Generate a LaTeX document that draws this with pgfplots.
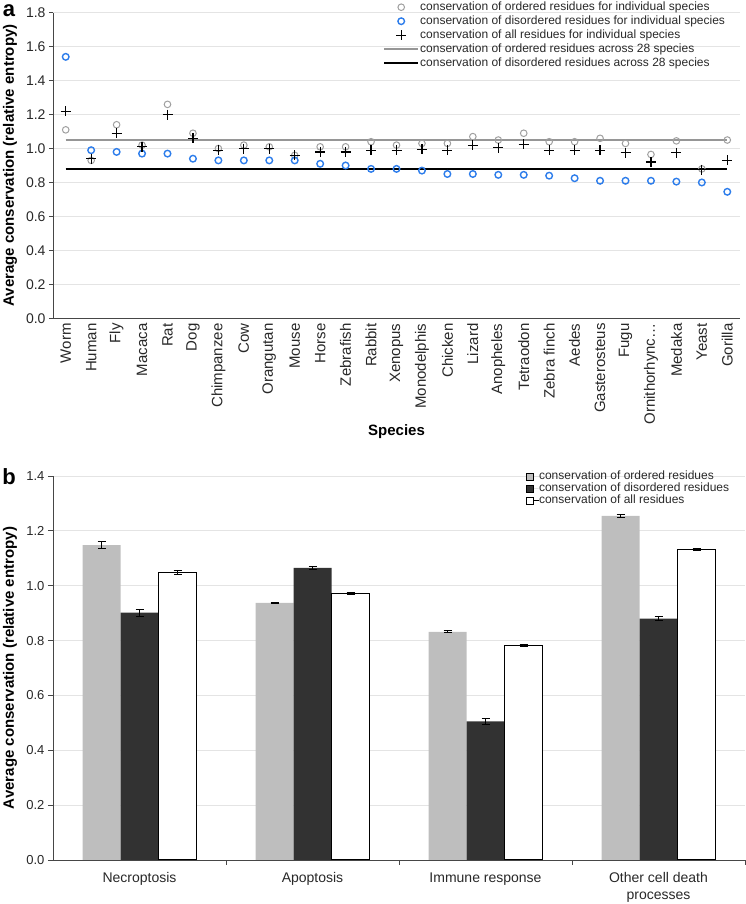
\documentclass[border=0pt]{standalone}
\usepackage{pgfplots}
\usepackage{pgfplotstable}
\pgfplotsset{compat=1.18}
\usepackage{fontspec}
\setmainfont{Liberation Sans}
\definecolor{ordgrey}{RGB}{160,160,160}
\definecolor{linegrey}{RGB}{150,150,150}
\definecolor{disblue}{RGB}{45,125,235}
\definecolor{gridc}{RGB}{228,228,228}
\definecolor{axc}{RGB}{70,70,70}
\definecolor{barlight}{RGB}{190,190,190}
\definecolor{bardark}{RGB}{50,50,50}
\definecolor{txt}{RGB}{40,40,40}

\pgfplotstableread{
idx ord dis all
0 1.11 1.54 1.22
1 0.93 0.99 0.94
2 1.14 0.98 1.09
3 1.02 0.97 1.01
4 1.26 0.97 1.20
5 1.09 0.94 1.06
6 1.00 0.93 0.99
7 1.02 0.93 1.00
8 1.01 0.93 1.00
9 0.96 0.93 0.96
10 1.01 0.91 0.98
11 1.01 0.90 0.98
12 1.04 0.88 0.99
13 1.02 0.88 0.99
14 1.03 0.87 0.995
15 1.03 0.85 0.99
16 1.07 0.85 1.02
17 1.05 0.845 1.005
18 1.09 0.845 1.025
19 1.04 0.84 0.99
20 1.04 0.825 0.99
21 1.06 0.81 0.99
22 1.03 0.81 0.975
23 0.965 0.81 0.92
24 1.045 0.805 0.975
25 0.88 0.80 0.875
26 1.05 0.745 0.93
}\speciestable

\begin{document}
\begin{tikzpicture}[x=1pt,y=1pt]
\useasboundingbox (0,0) rectangle (746,904);
\begin{axis}[
  at={(53pt,585.7pt)}, anchor=south west, scale only axis,
  width=687pt, height=305.6pt,
  xmin=-0.5, xmax=26.5, ymin=0, ymax=1.8,
  axis lines=left, axis line style={-, draw=axc, line width=0.8pt},
  /pgf/number format/assume math mode=true,
  ytick={0,0.2,0.4,0.6,0.8,1.0,1.2,1.4,1.6,1.8},
  yticklabel style={/pgf/number format/fixed, /pgf/number format/fixed zerofill, /pgf/number format/precision=1},
  tick label style={font=\fontsize{14}{16}\selectfont, text=txt},
  ymajorgrids, grid style={gridc, line width=0.8pt},
  tick align=outside, major tick length=4pt, ytick style={draw=axc, line width=0.8pt},
  xtick={0,...,26},
  xticklabels={Worm,Human,Fly,Macaca,Rat,Dog,Chimpanzee,Cow,Orangutan,Mouse,Horse,Zebrafish,Rabbit,Xenopus,Monodelphis,Chicken,Lizard,Anopheles,Tetraodon,Zebra finch,Aedes,Gasterosteus,Fugu,Ornithorhync\ldots,Medaka,Yeast,Gorilla},
  xtick style={draw=none},
  x tick label style={rotate=90, anchor=east, inner sep=1pt, font=\fontsize{15}{17}\selectfont},
  xlabel={\textbf{Species}},
  xlabel style={at={(axis description cs:0.5,-0.372)}, anchor=center, font=\fontsize{15}{18}\selectfont},
  ylabel={\textbf{Average conservation (relative entropy)}},
  ylabel style={at={(axis description cs:-0.0626,0.5)}, anchor=center, font=\fontsize{15}{18}\selectfont},
  legend style={at={(rel axis cs:0.476,1.048)}, anchor=north west, draw=none, fill=none,
    font=\fontsize{12}{14}\selectfont, text=txt, nodes={inner sep=1pt, text height=9pt, text depth=3pt}, row sep=0pt},
  legend cell align=left,
  legend image code/.code={\draw[mark repeat=2,mark phase=2,#1] plot coordinates {(0pt,0pt) (17pt,0pt) (34pt,0pt)};},
]
\addplot[linegrey, line width=2pt, forget plot] coordinates {(0,1.05) (26,1.05)};
\addplot[black, line width=2pt, forget plot] coordinates {(0,0.88) (26,0.88)};
\addplot[only marks, mark=o, mark size=3.3pt, ordgrey, line width=1pt] table[x=idx,y=ord]{\speciestable};
\addlegendentry{conservation of ordered residues for individual species}
\addplot[only marks, mark=o, mark size=3.3pt, disblue, line width=1.4pt] table[x=idx,y=dis]{\speciestable};
\addlegendentry{conservation of disordered residues for individual species}
\addplot[only marks, mark=+, mark size=5pt, black, line width=1.2pt] table[x=idx,y=all]{\speciestable};
\addlegendentry{conservation of all residues for individual species}
\addlegendimage{linegrey, line width=2pt}
\addlegendentry{conservation of ordered residues across 28 species}
\addlegendimage{black, line width=2pt}
\addlegendentry{conservation of disordered residues across 28 species}
\end{axis}

\begin{axis}[
  at={(53pt,44pt)}, anchor=south west, scale only axis,
  width=692pt, height=384pt,
  xmin=-0.5, xmax=3.5, ymin=0, ymax=1.4,
  axis lines=left, axis line style={-, draw=axc, line width=0.8pt},
  /pgf/number format/assume math mode=true,
  ytick={0,0.2,0.4,0.6,0.8,1.0,1.2,1.4},
  yticklabel style={/pgf/number format/fixed, /pgf/number format/fixed zerofill, /pgf/number format/precision=1},
  tick label style={font=\fontsize{13}{15}\selectfont, text=txt},
  ymajorgrids, grid style={gridc, line width=0.8pt},
  tick align=outside, major tick length=5pt, tick style={draw=axc, line width=0.8pt},
  xtick={0.5,1.5,2.5,3.5}, xticklabels={},
  extra x ticks={0,1,2,3},
  extra x tick labels={Necroptosis,Apoptosis,Immune response,{Other cell death\\processes}},
  extra x tick style={major tick length=0pt, grid=none, tick label style={align=center, yshift=-9pt, font=\fontsize{14}{17}\selectfont}},
  ylabel={\textbf{Average conservation (relative entropy)}},
  ylabel style={at={(axis description cs:-0.0621,0.5)}, anchor=center, font=\fontsize{15}{18}\selectfont},
  ybar=0pt, bar width=38pt,
  legend style={at={(rel axis cs:0.679,1.018)}, anchor=north west, draw=none, fill=none,
    font=\fontsize{12}{14}\selectfont, text=txt, nodes={inner sep=0pt, text height=8.5pt, text depth=2.5pt}, row sep=1pt},
  legend cell align=left,
  legend image code/.code={\path (0pt,0pt) -- (12pt,0pt); \draw[#1, line width=0.8pt] (0pt,-3.5pt) rectangle (7pt,3.5pt);},
]
\addplot[fill=barlight, draw=none,
  error bars/.cd, y dir=both, y explicit,
  error bar style={draw=black, line width=1pt},
  error mark options={rotate=90, mark size=4pt, draw=black, line width=1pt}]
  coordinates {(0,1.148) +- (0,0.012) (1,0.937) +- (0,0.003) (2,0.832) +- (0,0.004) (3,1.255) +- (0,0.006)};
\addlegendentry{conservation of ordered residues}
\addplot[fill=bardark, draw=none,
  error bars/.cd, y dir=both, y explicit,
  error bar style={draw=black, line width=1pt},
  error mark options={rotate=90, mark size=4pt, draw=black, line width=1pt}]
  coordinates {(0,0.902) +- (0,0.013) (1,1.065) +- (0,0.006) (2,0.505) +- (0,0.010) (3,0.880) +- (0,0.007)};
\addlegendentry{conservation of disordered residues}
\addplot[fill=white, draw=black, line width=1pt,
  error bars/.cd, y dir=both, y explicit,
  error bar style={draw=black, line width=1pt},
  error mark options={rotate=90, mark size=4pt, draw=black, line width=1pt}]
  coordinates {(0,1.048) +- (0,0.007) (1,0.972) +- (0,0.003) (2,0.782) +- (0,0.003) (3,1.133) +- (0,0.003)};
\addlegendentry{conservation of all residues}
\end{axis}

\node[font=\fontsize{22}{24}\selectfont\bfseries, inner sep=0pt] at (9,893) {a};
\node[font=\fontsize{22}{24}\selectfont\bfseries, inner sep=0pt] at (9,427) {b};
\end{tikzpicture}
\end{document}
